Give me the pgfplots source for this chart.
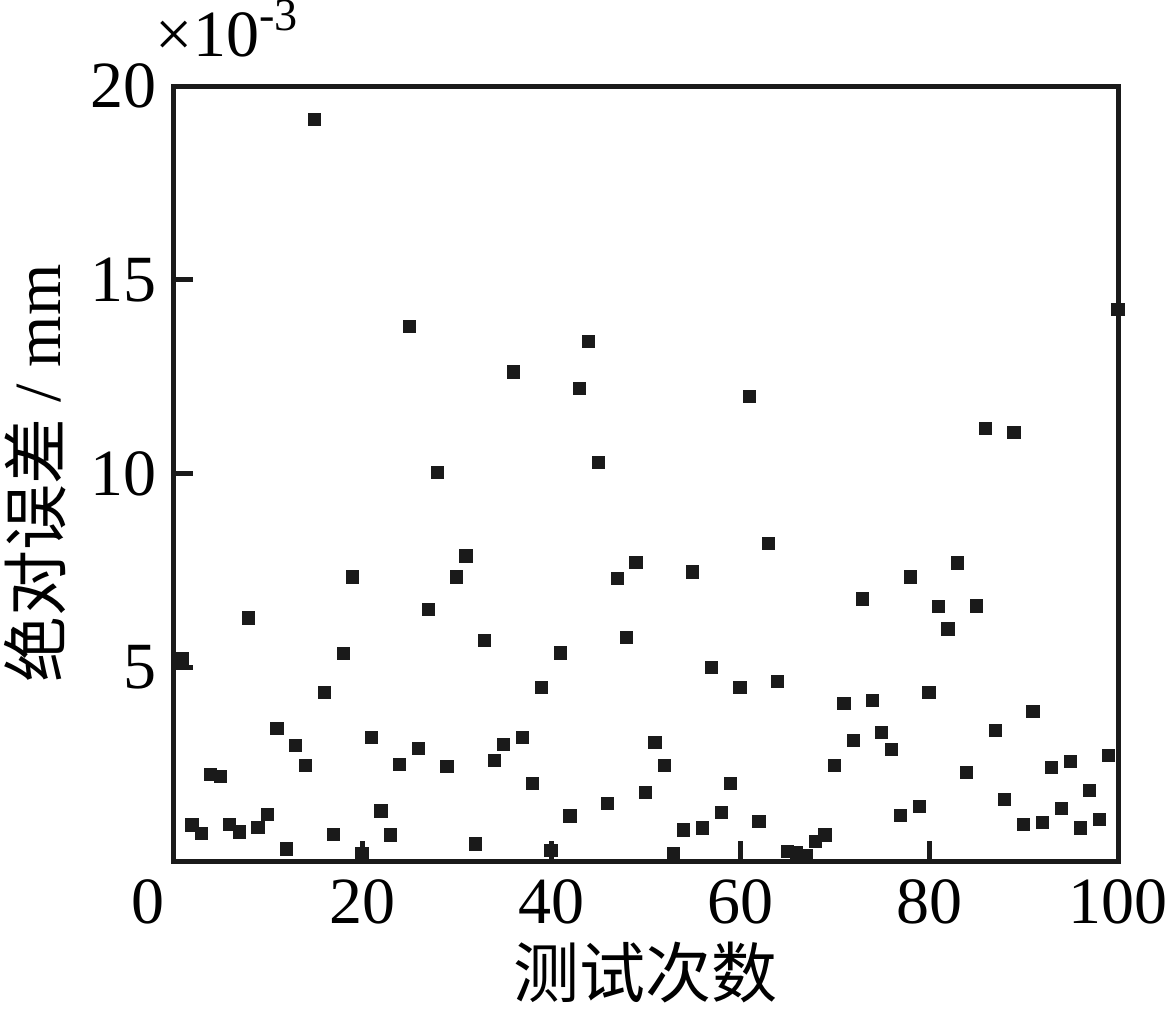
\documentclass[border=0pt]{standalone}
\usepackage{pgfplots}
\pgfplotsset{compat=1.18}
\usepackage{fontspec}
\setmainfont{Liberation Serif}
\newfontfamily\cjk{Noto Sans CJK SC}
\definecolor{mk}{HTML}{1A1A1A}
\pgfplotstableread{
x y
1 5.22
2 0.93
3 0.72
4 2.24
5 2.18
6 0.95
7 0.75
8 6.27
9 0.87
10 1.2
11 3.42
12 0.31
13 2.98
14 2.47
15 19.13
16 4.34
17 0.69
18 5.35
19 7.33
20 0.18
21 3.19
22 1.29
23 0.67
24 2.49
25 13.8
26 2.9
27 6.5
28 10.03
29 2.44
30 7.33
31 7.87
32 0.44
33 5.7
34 2.6
35 3.0
36 12.62
37 3.19
38 2.0
39 4.47
40 0.28
41 5.37
42 1.16
43 12.2
44 13.4
45 10.28
46 1.49
47 7.3
48 5.76
49 7.71
50 1.77
51 3.06
52 2.47
53 0.18
54 0.8
55 7.46
56 0.85
57 4.99
58 1.26
59 2.0
60 4.47
61 11.98
62 1.03
63 8.2
64 4.63
65 0.25
66 0.22
67 0.15
68 0.5
69 0.67
70 2.47
71 4.06
72 3.11
73 6.76
74 4.14
75 3.32
76 2.88
77 1.18
78 7.33
79 1.41
80 4.34
81 6.56
82 5.99
83 7.69
84 2.29
85 6.58
86 11.16
87 3.37
88 1.59
89 11.05
90 0.95
91 3.86
92 1.0
93 2.42
94 1.36
95 2.57
96 0.85
97 1.83
98 1.08
99 2.72
100 14.24
}\datatab
\begin{document}
\begin{tikzpicture}
\begin{axis}[
  name=ax,
  scale only axis,
  width=236.25pt, height=193.75pt,
  xmin=0, xmax=100, ymin=0, ymax=20,
  xtick={0,20,40,60,80,100},
  xticklabels={\makebox[0pt]{\hspace*{-12.5pt}0},20,40,60,80,100},
  ytick={5,10,15,20},
  tick pos=left,
  tick align=inside,
  major tick length=5pt,
  axis line style={line width=1.25pt, color=mk},
  every tick/.style={line width=1.25pt, color=mk},
  /pgf/number format/assume math mode=true,
  ticklabel style={font=\fontsize{16.5}{19}\selectfont},
  xticklabel style={yshift=-1pt},
  yticklabel style={xshift=-0.5pt},
  xlabel={\cjk 测试次数},
  ylabel={{\cjk 绝对误差} / mm},
  label style={font=\fontsize{16.5}{19}\selectfont},
  xlabel style={yshift=2.25pt},
  ylabel style={yshift=-0.75pt},
  clip=false,
]
\addplot[only marks, mark=square*, mark size=1.45pt, color=mk] table[x=x,y=y] {\datatab};
\node[anchor=base west, inner sep=0pt, font=\fontsize{16.5}{19}\selectfont] at (rel axis cs:0,1) [xshift=-4.5pt, yshift=7.5pt] {×10\textsuperscript{-3}};
\end{axis}
\pgfresetboundingbox
\useasboundingbox ([xshift=-43.25pt,yshift=-37.25pt]ax.south west) rectangle ([xshift=250pt,yshift=21.5pt]ax.north west);
\end{tikzpicture}
\end{document}
